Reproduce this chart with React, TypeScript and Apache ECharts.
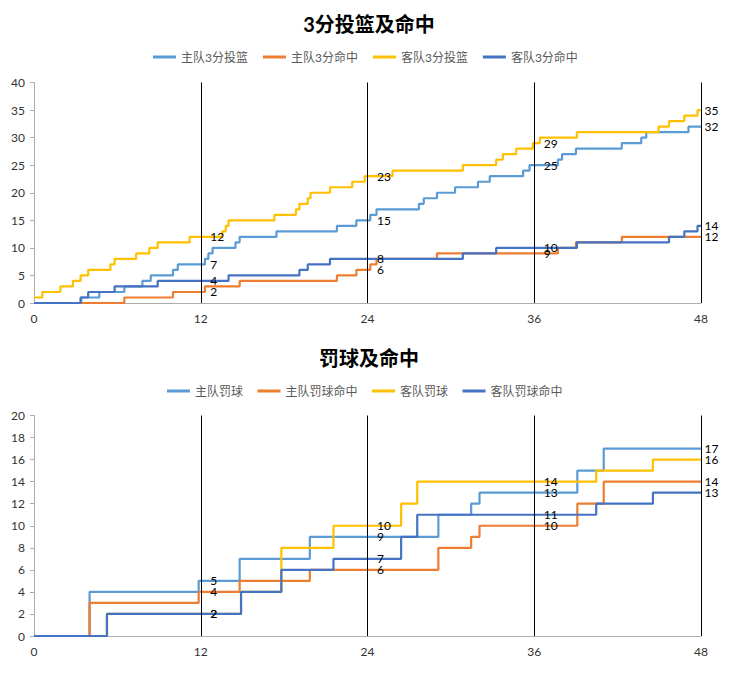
import React, { useEffect, useRef } from "react";
import * as echarts from "echarts";

// quarter ends (minutes)
const quarterEnds = [12, 24, 36, 48];

// ---- 3-point attempts / makes (time in minutes, cumulative count) ----
const home3aT = [0, 3.4, 4.7, 6.5, 7.8, 8.4, 10.0, 10.35, 12.3, 12.55, 12.85, 14.5, 14.8, 17.45, 21.8, 23.2, 24.2, 24.65, 27.7, 28.05, 29.0, 30.3, 31.95, 32.8, 35.2, 35.66, 37.7, 38.0, 39.0, 42.3, 43.7, 44.06, 47.1, 48];
const home3aV = [0, 1, 2, 3, 4, 5, 6, 7, 8, 9, 10, 11, 12, 13, 14, 15, 16, 17, 18, 19, 20, 21, 22, 23, 24, 25, 26, 27, 28, 29, 30, 31, 32, 32];

const home3mT = [0, 6.5, 10.0, 12.3, 14.8, 21.8, 23.2, 24.2, 24.65, 29.0, 37.7, 39.0, 42.3, 48];
const home3mV = [0, 1, 2, 3, 4, 5, 6, 7, 8, 9, 10, 11, 12, 12];

const away3aT = [0, 0.6, 1.9, 2.8, 3.35, 3.9, 5.5, 5.8, 7.35, 8.3, 8.9, 11.2, 13.55, 13.8, 14.0, 17.3, 18.85, 19.1, 19.7, 19.9, 21.3, 22.9, 23.8, 25.8, 30.86, 33.26, 33.74, 34.7, 35.9, 36.4, 39.07, 44.95, 45.7, 46.8, 47.75, 48];
const away3aV = [1, 2, 3, 4, 5, 6, 7, 8, 9, 10, 11, 12, 13, 14, 15, 16, 17, 18, 19, 20, 21, 22, 23, 24, 25, 26, 27, 28, 29, 30, 31, 32, 33, 34, 35, 35];

const away3mT = [0, 3.35, 3.9, 5.8, 8.9, 14.0, 19.1, 19.7, 21.3, 30.86, 33.26, 39.07, 45.7, 46.8, 47.75, 48];
const away3mV = [0, 1, 2, 3, 4, 5, 6, 7, 8, 9, 10, 11, 12, 13, 14, 14];

// ---- free throws ----
const homeFtaT = [0, 4.0, 11.85, 14.8, 19.85, 29.1, 31.46, 32.06, 39.1, 41.0, 48];
const homeFtaV = [0, 4, 5, 7, 9, 11, 12, 13, 15, 17, 17];

const homeFtmT = [0, 4.0, 11.85, 14.8, 19.85, 29.1, 31.46, 32.06, 39.1, 41.0, 48];
const homeFtmV = [0, 3, 4, 5, 6, 8, 9, 10, 12, 14, 14];

const awayFtaT = [0, 5.25, 14.9, 17.8, 21.55, 26.42, 27.58, 40.46, 44.54, 48];
const awayFtaV = [0, 2, 4, 8, 10, 12, 14, 15, 16, 16];

const awayFtmT = [0, 5.25, 14.9, 17.8, 21.55, 26.42, 27.58, 40.46, 44.54, 48];
const awayFtmV = [0, 2, 4, 6, 7, 9, 11, 12, 13, 13];

const names3 = ["主队3分投篮", "主队3分命中", "客队3分投篮", "客队3分命中"];
const namesFt = ["主队罚球", "主队罚球命中", "客队罚球", "客队罚球命中"];
const colors = ["#5B9BD5", "#ED7D31", "#FFC000", "#4472C4"];

const FONT = "Lato, 'Noto Sans CJK SC', sans-serif";

function valueAt(T: number[], V: number[], t: number) {
  let v = V[0];
  for (let i = 0; i < T.length; i++) if (T[i] <= t) v = V[i];
  return v;
}

function makeSeries(name: string, T: number[], V: number[], color: string, gridIdx: number, withLines: boolean) {
  const s: any = {
    name,
    type: "line",
    step: "end",
    xAxisIndex: gridIdx,
    yAxisIndex: gridIdx,
    showSymbol: false,
    symbol: "none",
    color,
    lineStyle: { width: 2.2, color },
    data: T.map((t, i) => [t, V[i]]),
    markPoint: {
      symbol: "circle",
      symbolSize: 1,
      silent: true,
      itemStyle: { color: "transparent" },
      label: { show: true, position: "right", color: "#000", fontSize: 12, fontFamily: FONT, formatter: "{c}" },
      data: quarterEnds.map((t) => ({
        coord: [t, valueAt(T, V, t)],
        value: valueAt(T, V, t),
        label: { distance: t === 48 ? 3 : 9 },
      })),
    },
  };
  if (withLines) {
    s.markLine = {
      symbol: "none",
      silent: true,
      label: { show: false },
      lineStyle: { color: "#000", width: 1, type: "solid" },
      emphasis: { disabled: true },
      data: quarterEnds.map((t) => ({ xAxis: t })),
    };
  }
  return s;
}

function xAxisCfg(gridIndex: number) {
  return {
    type: "value",
    gridIndex,
    min: 0,
    max: 48,
    interval: 12,
    axisLine: { show: true, lineStyle: { color: "#ADADAD", width: 1 } },
    axisTick: { show: false },
    splitLine: { show: false },
    axisLabel: { color: "#333", fontSize: 12, fontFamily: FONT, margin: 9 },
  };
}

function yAxisCfg(gridIndex: number, max: number, interval: number) {
  return {
    type: "value",
    gridIndex,
    min: 0,
    max,
    interval,
    axisLine: { show: true, lineStyle: { color: "#ADADAD", width: 1 } },
    axisTick: { show: true, length: 4, lineStyle: { color: "#ADADAD" } },
    splitLine: { show: false },
    axisLabel: { color: "#333", fontSize: 12, fontFamily: FONT, margin: 9 },
  };
}

export default function App() {
  const ref = useRef<HTMLDivElement>(null);
  useEffect(() => {
    document.body.style.margin = "0";
    if (!ref.current) return;
    const chart = echarts.init(ref.current, null, { renderer: "svg" });
    const legendCommon = {
      icon: "rect",
      itemWidth: 23,
      itemHeight: 3,
      padding: 0,
      textStyle: { fontSize: 12, color: "#595959", fontFamily: FONT },
    };
    chart.setOption({
      animation: false,
      backgroundColor: "#fff",
      textStyle: { fontFamily: FONT },
      title: [
        {
          text: "3分投篮及命中",
          left: "center",
          top: 10,
          padding: 0,
          textStyle: { fontSize: 20, fontWeight: "bold", color: "#000", fontFamily: FONT, lineHeight: 28 },
        },
        {
          text: "罚球及命中",
          left: "center",
          top: 344,
          padding: 0,
          textStyle: { fontSize: 20, fontWeight: "bold", color: "#000", fontFamily: FONT, lineHeight: 28 },
        },
      ],
      legend: [
        { ...legendCommon, data: names3, top: 51, left: 153, itemGap: 15 },
        { ...legendCommon, data: namesFt, top: 385, left: 167, itemGap: 14.5 },
      ],
      grid: [
        { left: 34, right: 37, top: 82.5, height: 220.5 },
        { left: 34, right: 37, top: 415.5, height: 220.5 },
      ],
      xAxis: [xAxisCfg(0), xAxisCfg(1)],
      yAxis: [yAxisCfg(0, 40, 5), yAxisCfg(1, 20, 2)],
      series: [
        makeSeries(names3[0], home3aT, home3aV, colors[0], 0, true),
        makeSeries(names3[1], home3mT, home3mV, colors[1], 0, false),
        makeSeries(names3[2], away3aT, away3aV, colors[2], 0, false),
        makeSeries(names3[3], away3mT, away3mV, colors[3], 0, false),
        makeSeries(namesFt[0], homeFtaT, homeFtaV, colors[0], 1, true),
        makeSeries(namesFt[1], homeFtmT, homeFtmV, colors[1], 1, false),
        makeSeries(namesFt[2], awayFtaT, awayFtaV, colors[2], 1, false),
        makeSeries(namesFt[3], awayFtmT, awayFtmV, colors[3], 1, false),
      ],
    });
    return () => chart.dispose();
  }, []);
  return <div ref={ref} style={{ width: 738, height: 677 }} />;
}
